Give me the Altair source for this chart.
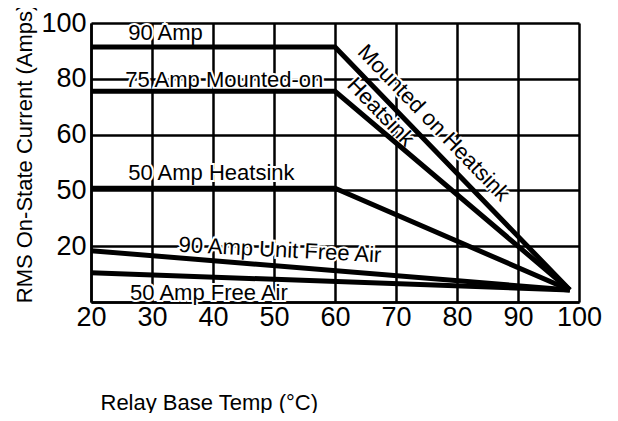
import altair as alt
import pandas as pd

FONT = "Liberation Sans, Arial, Helvetica, sans-serif"

# ---- data ----
temps_heatsink = [20, 60, 98.5]
amp90_heatsink = [91.4, 91.4, 4.3]
amp75_heatsink = [75.5, 75.5, 4.3]
amp50_heatsink = [40.8, 40.8, 4.3]
temps_free = [20, 98.5]
amp90_free = [18.4, 4.3]
amp50_free = [10.5, 4.3]

x_ticks = [20, 30, 40, 50, 60, 70, 80, 90, 100]
y_ticks = [0, 20, 40, 60, 80, 100]

# horizontal (left-aligned, baseline) labels
left_text = ["90 Amp", "75 Amp Mounted-on", "50 Amp Heatsink", "90 Amp Unit Free Air", "50 Amp Free Air"]
left_x = [26.1, 25.6, 26.1, 34.3, 26.4]
left_y = [93.9, 77.0, 43.7, 18.0, 0.7]
left_angle = [0, 0, 0, 3, 0]

# diagonal (centered) labels
diag_text = ["Mounted on Heatsink", "Heatsink"]
diag_x = [76.2, 67.5]
diag_y = [64.2, 68.1]
diag_angle = [46, 46]

rows = []
for name, xs, ys in [
    ("90 Amp Heatsink", temps_heatsink, amp90_heatsink),
    ("75 Amp Heatsink", temps_heatsink, amp75_heatsink),
    ("50 Amp Heatsink", temps_heatsink, amp50_heatsink),
    ("90 Amp Free Air", temps_free, amp90_free),
    ("50 Amp Free Air", temps_free, amp50_free),
]:
    for i, (xv, yv) in enumerate(zip(xs, ys)):
        rows.append({"series": name, "temp": xv, "amps": yv, "i": i})
lines_df = pd.DataFrame(rows)

left_df = pd.DataFrame({"text": left_text, "temp": left_x, "amps": left_y, "angle": left_angle})
diag_df = pd.DataFrame({"text": diag_text, "temp": diag_x, "amps": diag_y, "angle": diag_angle})

x_scale = alt.Scale(domain=[20, 100], nice=False, zero=False)
y_scale = alt.Scale(domain=[0, 100], nice=False)

x_axis = alt.Axis(
    values=x_ticks, title="Relay Base Temp (°C)", grid=True, gridColor="black", gridWidth=2.5,
    gridOpacity=1, domainColor="black", domainWidth=2.5, ticks=False, tickSize=0,
    labelFont=FONT, labelFontSize=27, labelColor="black", labelPadding=15, labelBaseline="middle",
    labelFlush=False, labelOverlap=False,
    titleFont=FONT, titleFontSize=22, titleFontWeight="normal", titleColor="black",
    titleX=9, titleY=100, titleAlign="left", titleBaseline="middle", titleAnchor="start",
)
y_axis = alt.Axis(
    values=y_ticks, title="RMS On-State Current (Amps)", grid=True, gridColor="black", gridWidth=2.5,
    gridOpacity=1, domainColor="black", domainWidth=2.5, ticks=False, tickSize=0,
    labelExpr="datum.value == 40 ? '50' : (datum.value == 0 ? '' : datum.label)",
    labelFont=FONT, labelFontSize=27, labelColor="black", labelPadding=5, labelBaseline="middle",
    labelFlush=False, labelOverlap=False,
    titleFont=FONT, titleFontSize=22, titleFontWeight="normal", titleColor="black",
    titleX=-67, titleY=130, titleAlign="center", titleBaseline="middle", titleAngle=270,
)

base_x = alt.X("temp:Q", scale=x_scale, axis=x_axis)
base_y = alt.Y("amps:Q", scale=y_scale, axis=y_axis)

lines = alt.Chart(lines_df).mark_line(color="black", strokeWidth=5, strokeCap="butt").encode(
    x=base_x, y=base_y, detail="series:N", order="i:Q"
)


def text_layer(df, align, baseline, halo):
    props = dict(font=FONT, fontSize=22, align=align, baseline=baseline)
    if halo:
        props.update(fill="white", stroke="white", strokeWidth=4)
    else:
        props.update(fill="black")
    return alt.Chart(df).mark_text(**props).encode(
        x=alt.X("temp:Q", scale=x_scale),
        y=alt.Y("amps:Q", scale=y_scale),
        text="text:N",
        angle=alt.Angle("angle:Q", scale=None),
    )


chart = alt.layer(
    text_layer(left_df, "left", "alphabetic", True),
    text_layer(diag_df, "center", "middle", True),
    lines,
    text_layer(left_df, "left", "alphabetic", False),
    text_layer(diag_df, "center", "middle", False),
).properties(
    width=488, height=279,
    autosize=alt.AutoSizeParams(type="none"),
    padding={"left": 83, "top": 15, "right": 31, "bottom": 111},
).configure_view(stroke="black", strokeWidth=2.5).configure(background="white")

chart.save("out.html", embed_options={"renderer": "svg", "actions": False})
